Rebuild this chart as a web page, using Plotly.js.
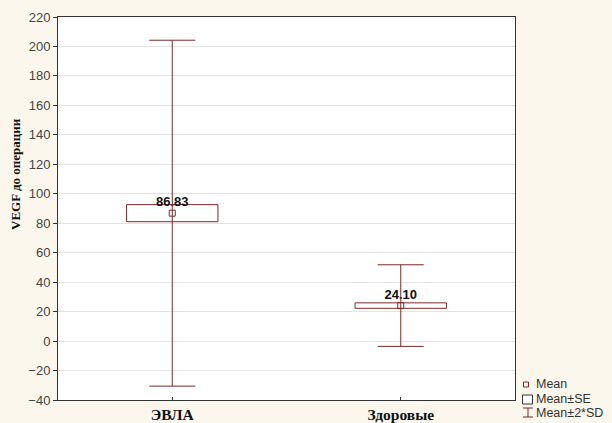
<!DOCTYPE html>
<html><head><meta charset="utf-8">
<script src="https://cdn.plot.ly/plotly-3.0.1.min.js"></script>
<style>html,body{margin:0;padding:0;background:#fcf7ec;}</style>
</head><body><div id="chart" style="width:612px;height:423px;"></div>
<script>
const categories = ['ЭВЛА', 'Здоровые'];
const means = [86.83, 24.10];
const se = [5.8, 1.85];
const sd = [58.7, 13.85];
const meanLabels = ['86.83', '24.10'];
const yTicks = [-40,-20,0,20,40,60,80,100,120,140,160,180,200,220];

const col = '#7a2a2a';
const boxBase = means.map((m,i)=>m-se[i]);
const boxLen = se.map(s=>2*s);
const twoSD = sd.map(s=>2*s);

const traces = [
  {type:'bar', x:categories, y:boxLen, base:boxBase, width:0.4,
   marker:{color:'#ffffff', line:{color:col, width:1}}, hoverinfo:'skip', showlegend:false},
  {type:'scatter', mode:'markers+text', x:categories, y:means, text:meanLabels,
   marker:{size:4, color:'rgba(0,0,0,0)'},
   textposition:'top center', textfont:{family:'Arial, Liberation Sans', size:13, color:'#111', weight:'bold'},
   showlegend:false, hoverinfo:'skip'},
  {type:'scatter', mode:'markers', x:categories, y:means,
   marker:{symbol:'square-open', size:6, color:col, line:{width:1}},
   error_y:{type:'data', array:twoSD, visible:true, color:col, thickness:1, width:23},
   showlegend:false}
];

const px = v => (v-58)/457;
const py = v => (400-v)/383;
const legFont = {family:'Arial, Liberation Sans', size:12.5, color:'#333'};

const layout = {
  width:612, height:423,
  paper_bgcolor:'#fcf7ec', plot_bgcolor:'#ffffff',
  margin:{l:58, r:97, t:17, b:23},
  showlegend:false,
  bargap:0,
  xaxis:{type:'category', range:[-0.5,1.5], showgrid:false, zeroline:false,
    showline:true, mirror:true, linecolor:'#333', linewidth:1,
    ticks:'inside', ticklen:3, tickcolor:'#333',
    tickfont:{family:'Liberation Serif, Times New Roman', size:15.5, color:'#111', weight:'bold'}},
  yaxis:{range:[-40,220], tickvals:yTicks, showgrid:true, gridcolor:'#e2e2e2', gridwidth:1,
    zeroline:false, showline:true, mirror:true, linecolor:'#333', linewidth:1,
    ticks:'outside', ticklen:4, tickcolor:'#333',
    tickfont:{family:'Arial, Liberation Sans', size:13, color:'#444'}},
  annotations:[
    {xref:'paper', yref:'paper', x:px(15), y:py(174), xanchor:'center', yanchor:'middle',
     textangle:-90, showarrow:false, text:'<b>VEGF до операции</b>',
     font:{family:'Liberation Serif, Times New Roman', size:13, color:'#111'}},
    {xref:'paper', yref:'paper', x:px(535), y:py(384), xanchor:'left', yanchor:'middle', showarrow:false,
     borderpad:0, text:'Mean', font:legFont},
    {xref:'paper', yref:'paper', x:px(535), y:py(398.5), xanchor:'left', yanchor:'middle', showarrow:false,
     borderpad:0, text:'Mean±SE', font:legFont},
    {xref:'paper', yref:'paper', x:px(535), y:py(413), xanchor:'left', yanchor:'middle', showarrow:false,
     borderpad:0, text:'Mean±2*SD', font:legFont}
  ],
  shapes:[
    {type:'rect', xref:'paper', yref:'paper', x0:px(523.5), x1:px(528.5), y0:py(387), y1:py(382),
     line:{color:col, width:1}, fillcolor:'rgba(0,0,0,0)'},
    {type:'rect', xref:'paper', yref:'paper', x0:px(522.5), x1:px(532.5), y0:py(404), y1:py(395),
     line:{color:'#333', width:1}, fillcolor:'#ffffff'},
    {type:'line', xref:'paper', yref:'paper', x0:px(528), x1:px(528), y0:py(417), y1:py(408),
     line:{color:col, width:1}},
    {type:'line', xref:'paper', yref:'paper', x0:px(523), x1:px(533), y0:py(408), y1:py(408),
     line:{color:col, width:1}},
    {type:'line', xref:'paper', yref:'paper', x0:px(523), x1:px(533), y0:py(417), y1:py(417),
     line:{color:col, width:1}}
  ]
};
Plotly.newPlot('chart', traces, layout, {displayModeBar:false, staticPlot:true});
</script></body></html>
